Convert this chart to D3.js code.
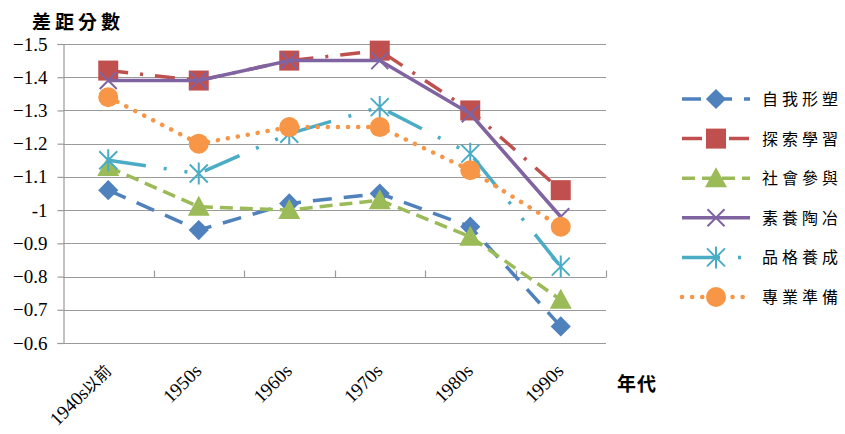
<!DOCTYPE html>
<html>
<head>
<meta charset="utf-8">
<script src="https://cdn.jsdelivr.net/npm/d3@7"></script>
<style>
  html, body { margin: 0; padding: 0; background: #fff; }
  svg { display: block; }
</style>
</head>
<body>
<svg id="chart" width="845" height="434"></svg>
<script>
// Categories (decades) and gap scores per dimension
const categories = ["1940s以前", "1950s", "1960s", "1970s", "1980s", "1990s"];
const seriesNames = ["自我形塑", "探索學習", "社會參與", "素養陶冶", "品格養成", "專業準備"];
const selfShaping   = [-1.06, -0.94, -1.02, -1.05, -0.95, -0.65];
const exploration   = [-1.42, -1.39, -1.45, -1.48, -1.30, -1.06];
const socialPart    = [-1.13, -1.01, -1.00, -1.03, -0.92, -0.73];
const cultivation   = [-1.39, -1.39, -1.45, -1.45, -1.29, -0.98];
const character     = [-1.15, -1.11, -1.23, -1.31, -1.17, -0.83];
const professional  = [-1.34, -1.20, -1.25, -1.25, -1.12, -0.95];
const yTicks = [-1.5, -1.4, -1.3, -1.2, -1.1, -1.0, -0.9, -0.8, -0.7, -0.6];

const seriesValues = [selfShaping, exploration, socialPart, cultivation, character, professional];
const styles = [
  { color: "#4F81BD", dash: "19,12", cap: "butt", marker: "diamond", width: 3.5 },
  { color: "#C0504D", dash: "20,12,3,12", cap: "butt", marker: "square", width: 3.5 },
  { color: "#9BBB59", dash: "13,7", cap: "butt", marker: "triangle", width: 3.5 },
  { color: "#8064A2", dash: null, cap: "butt", marker: "x", width: 3.5 },
  { color: "#4BACC6", dash: "38,18,3,18,3,18", cap: "butt", marker: "star", width: 3.5 },
  { color: "#F79646", dash: "0.1,10", cap: "round", marker: "circle", width: 4.5 }
];

const svg = d3.select("#chart");
const margin = { left: 63, right: 239, top: 44, bottom: 91 };
const W = 845, H = 434;
const plotW = W - margin.left - margin.right;
const plotH = H - margin.top - margin.bottom;

const x = d3.scaleBand().domain(categories).range([margin.left, margin.left + plotW]);
const y = d3.scaleLinear().domain([-1.5, -0.6]).range([margin.top, margin.top + plotH]);

const fmt = v => (v === -1 ? "-1" : d3.format(".1f")(v));

// gridlines
svg.append("g")
  .selectAll("line")
  .data(yTicks)
  .join("line")
  .attr("x1", margin.left).attr("x2", margin.left + plotW)
  .attr("y1", d => Math.round(y(d)) + 0.5).attr("y2", d => Math.round(y(d)) + 0.5)
  .attr("stroke", "#9a9a9a").attr("stroke-width", 1.2);

// y axis
const yAxis = d3.axisLeft(y).tickValues(yTicks).tickFormat(fmt).tickSize(6).tickPadding(10);
const yg = svg.append("g").attr("transform", `translate(${margin.left + 0.5},0)`).call(yAxis);
yg.select(".domain").attr("stroke", "#9a9a9a").attr("stroke-width", 1.2);
yg.selectAll(".tick line").attr("stroke", "#9a9a9a").attr("stroke-width", 1.2);
yg.selectAll(".tick text")
  .attr("font-family", "'Liberation Serif', 'Times New Roman', serif")
  .attr("font-size", 19).attr("fill", "#000");

// category boundary ticks on the line at -0.8, pointing up
const crossY = Math.round(y(-0.8)) + 0.5;
const bounds = d3.range(1, categories.length + 1).map(i => margin.left + i * x.step());
svg.append("g").selectAll("line").data(bounds).join("line")
  .attr("x1", d => Math.round(d) + 0.5).attr("x2", d => Math.round(d) + 0.5)
  .attr("y1", crossY).attr("y2", crossY - 7)
  .attr("stroke", "#9a9a9a").attr("stroke-width", 1.2);

// category labels, rotated; CJK part set a little smaller
const catLabels = svg.append("g").selectAll("text").data(categories).join("text")
  .attr("transform", d => `translate(${x(d) + x.bandwidth() / 2 + 4},${372}) rotate(-45)`)
  .attr("text-anchor", "end")
  .attr("font-family", "'Liberation Serif', 'Times New Roman', 'Noto Sans CJK TC', serif")
  .attr("font-size", 19);
catLabels.each(function (d) {
  const t = d3.select(this);
  const m = d.match(/^([0-9s]+)(.*)$/);
  t.append("tspan").text(m[1]);
  if (m[2]) t.append("tspan").attr("font-size", 16).text(m[2]);
});

// axis titles
svg.append("text").attr("x", 32).attr("y", 29)
  .attr("font-family", "'Noto Sans CJK TC', sans-serif")
  .attr("font-weight", "bold").attr("font-size", 19).attr("letter-spacing", 4)
  .text("差距分數");
svg.append("text").attr("x", 617).attr("y", 391)
  .attr("font-family", "'Noto Sans CJK TC', sans-serif")
  .attr("font-weight", "bold").attr("font-size", 19).attr("letter-spacing", 1)
  .text("年代");

// marker drawing helper
function drawMarker(g, type, color, cx, cy) {
  if (type === "diamond") {
    g.append("path").attr("d", d3.symbol(d3.symbolDiamond2, 260)())
      .attr("transform", `translate(${cx},${cy})`).attr("fill", color);
  } else if (type === "square") {
    g.append("rect").attr("x", cx - 10).attr("y", cy - 10).attr("width", 20).attr("height", 20)
      .attr("fill", color);
  } else if (type === "triangle") {
    g.append("path").attr("d", `M${cx},${cy - 11}L${cx + 11},${cy + 9}L${cx - 11},${cy + 9}Z`)
      .attr("fill", color);
  } else if (type === "circle") {
    g.append("circle").attr("cx", cx).attr("cy", cy).attr("r", 10).attr("fill", color);
  } else if (type === "x") {
    const r = 8.5;
    g.append("path").attr("d", `M${cx - r},${cy - r}L${cx + r},${cy + r}M${cx - r},${cy + r}L${cx + r},${cy - r}`)
      .attr("stroke", color).attr("stroke-width", 2).attr("fill", "none");
  } else if (type === "star") {
    const r = 9;
    g.append("path").attr("d",
      `M${cx - r},${cy - r}L${cx + r},${cy + r}M${cx - r},${cy + r}L${cx + r},${cy - r}M${cx},${cy - r - 2}L${cx},${cy + r + 2}`)
      .attr("stroke", color).attr("stroke-width", 2).attr("fill", "none");
  }
}

const line = d3.line()
  .x((d, i) => x(categories[i]) + x.bandwidth() / 2)
  .y(d => y(d));

const seriesG = svg.append("g");
seriesValues.forEach((vals, si) => {
  const st = styles[si];
  const g = seriesG.append("g");
  g.append("path").datum(vals).attr("d", line)
    .attr("fill", "none").attr("stroke", st.color).attr("stroke-width", st.width)
    .attr("stroke-dasharray", st.dash).attr("stroke-linecap", st.cap).attr("stroke-linejoin", "round");
  vals.forEach((v, i) => drawMarker(g, st.marker, st.color, x(categories[i]) + x.bandwidth() / 2, y(v)));
});

// legend
const legend = svg.append("g");
seriesNames.forEach((name, i) => {
  const st = styles[i];
  const ly = 99 + i * 39.6;
  const g = legend.append("g");
  g.append("line").attr("x1", 682).attr("x2", 750).attr("y1", ly).attr("y2", ly)
    .attr("stroke", st.color).attr("stroke-width", st.width)
    .attr("stroke-dasharray", st.dash).attr("stroke-linecap", st.cap);
  drawMarker(g, st.marker, st.color, 716, ly);
  g.append("text").attr("x", 762).attr("y", ly + 6)
    .attr("font-family", "'Noto Sans CJK TC', sans-serif")
    .attr("font-size", 16).attr("letter-spacing", 4)
    .text(name);
});
</script>
</body>
</html>
